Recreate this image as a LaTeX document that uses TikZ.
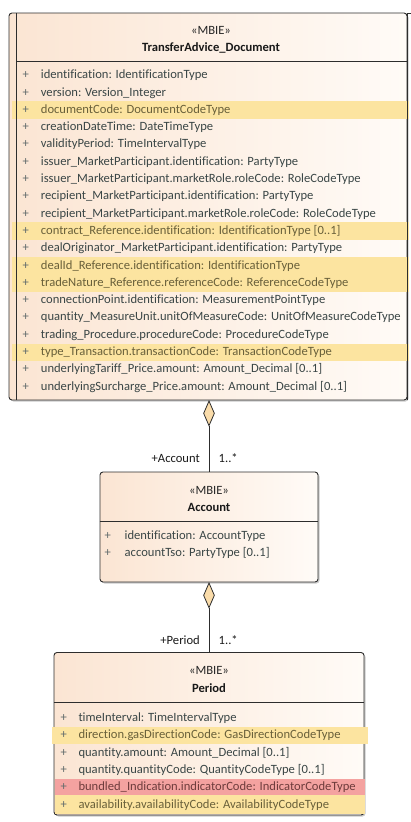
\documentclass[tikz,border=0pt]{standalone}
\usepackage{fontspec}
\setmainfont{Carlito}[Ligatures=NoCommon]
\usetikzlibrary{shapes.geometric,shadows}
\definecolor{txt}{RGB}{58,70,70}
\definecolor{hltxt}{RGB}{105,96,58}
\definecolor{redtxt}{RGB}{110,60,60}
\definecolor{hly}{RGB}{252,228,160}
\definecolor{hlr}{RGB}{244,162,160}
\definecolor{peach}{RGB}{251,229,211}
\definecolor{paper}{RGB}{255,251,247}
\definecolor{edge}{RGB}{45,45,45}
\definecolor{dia}{RGB}{250,220,170}
\newcommand{\attrfont}{\fontsize{12.6}{14}\selectfont}
\begin{document}
\begin{tikzpicture}[x=1pt,y=-1pt,
  umlbox/.style={draw=edge, line width=0.9pt, rounded corners=3pt, left color=peach, right color=paper, inner sep=0,
    drop shadow={shadow xshift=1.5pt, shadow yshift=-1.5pt, fill=black!35, opacity=0.6}},
  sep/.style={draw=edge, line width=0.9pt},
  attr/.style={anchor=base west, inner sep=0, font=\attrfont, text=txt},
  rown/.style={text=txt},
  rowh/.style={text=hltxt},
  rowr/.style={text=redtxt},
  plus/.style={anchor=base west, inner sep=0, font=\attrfont, text=txt!80},
  stereo/.style={anchor=base, inner sep=0, font=\attrfont, text=black!85},
  cname/.style={anchor=base, inner sep=0, font=\attrfont\bfseries, text=black!90},
  lbl/.style={inner sep=0, font=\attrfont, text=black!90},
  diam/.style={shape=diamond, draw=edge, line width=0.8pt, fill=dia, minimum width=11pt, minimum height=25pt, inner sep=0, anchor=north},
  conn/.style={draw=edge, line width=0.9pt},
  bandy/.style={fill=hly},
  bandr/.style={fill=hlr}
]
\useasboundingbox (0,0) rectangle (411,822);

% ---------------- TransferAdvice_Document ----------------
\node[umlbox, minimum width=398pt, minimum height=387pt] (doc) at (208,206.5) {};
% highlight bands
\foreach \b in {113.3,234.4,269.0,286.3,355.5}
  \fill[bandy] (12,\b-12) rectangle (409,\b+5.3);
\draw[sep] (16,13) -- (16,400);
\draw[sep] (407,13) -- (407,400);
\draw[sep] (407,13) -- (411,13);
\draw[sep] (16,61.7) -- (407,61.7);
\node[stereo] (docs) at (211,34) {«MBIE»};
\node[cname] (docn) at (211,51) {TransferAdvice\_Document};
\foreach \s/\t [count=\i] in {
  rown/{identification: IdentificationType},
  rown/{version: Version\_Integer},
  rowh/{documentCode: DocumentCodeType},
  rown/{creationDateTime: DateTimeType},
  rown/{validityPeriod: TimeIntervalType},
  rown/{issuer\_MarketParticipant.identification: PartyType},
  rown/{issuer\_MarketParticipant.marketRole.roleCode: RoleCodeType},
  rown/{recipient\_MarketParticipant.identification: PartyType},
  rown/{recipient\_MarketParticipant.marketRole.roleCode: RoleCodeType},
  rowh/{contract\_Reference.identification: IdentificationType [0..1]},
  rown/{dealOriginator\_MarketParticipant.identification: PartyType},
  rowh/{dealId\_Reference.identification: IdentificationType},
  rowh/{tradeNature\_Reference.referenceCode: ReferenceCodeType},
  rown/{connectionPoint.identification: MeasurementPointType},
  rown/{quantity\_MeasureUnit.unitOfMeasureCode: UnitOfMeasureCodeType},
  rown/{trading\_Procedure.procedureCode: ProcedureCodeType},
  rowh/{type\_Transaction.transactionCode: TransactionCodeType},
  rown/{underlyingTariff\_Price.amount: Amount\_Decimal [0..1]},
  rown/{underlyingSurcharge\_Price.amount: Amount\_Decimal [0..1]}} {
  \node[plus] (dp\i) at (22.5,{78.7+17.3*(\i-1)}) {+};
  \node[attr,\s] (da\i) at (40.7,{78.7+17.3*(\i-1)}) {\t};
}

% ---------------- Account ----------------
\node[umlbox, minimum width=218pt, minimum height=110pt] (acc) at (209,527) {};
\draw[sep] (acc.west |- 0,521) -- (acc.east |- 0,521);
\node[stereo] (accs) at (209,494) {«MBIE»};
\node[cname] (accn) at (209,511) {Account};
\node[plus] (ap1) at (104.5,539) {+};
\node[attr] (aa1) at (124.5,539) {identification: AccountType};
\node[plus] (ap2) at (104.5,556.3) {+};
\node[attr] (aa2) at (124.5,556.3) {accountTso: PartyType [0..1]};

% ---------------- Period ----------------
\node[umlbox, minimum width=310pt, minimum height=162.5pt] (per) at (209,733.75) {};
\fill[bandr] (55,790.7-12) rectangle (364.5,790.7+4.2);
\fill[bandy] (55,808.0-12.9) rectangle (364.5,813.5);
\fill[bandy] (52,738.8-12) rectangle (368,738.8+5.5);
\draw[sep] (per.west |- 0,702) -- (per.east |- 0,702);
\node[stereo] (pers) at (209,674) {«MBIE»};
\node[cname] (pern) at (209,692.5) {Period};
\foreach \s/\t [count=\i] in {
  rown/{timeInterval: TimeIntervalType},
  rowh/{direction.gasDirectionCode: GasDirectionCodeType},
  rown/{quantity.amount: Amount\_Decimal [0..1]},
  rown/{quantity.quantityCode: QuantityCodeType [0..1]},
  rowr/{bundled\_Indication.indicatorCode: IndicatorCodeType},
  rowh/{availability.availabilityCode: AvailabilityCodeType}} {
  \node[plus] (pp\i) at (60.5,{721.5+17.3*(\i-1)}) {+};
  \node[attr,\s] (pa\i) at (78.3,{721.5+17.3*(\i-1)}) {\t};
}

% ---------------- connectors ----------------
\node[diam] (k1) at (acc.north |- doc.south) {};
\draw[conn] (k1.south) -- (acc.north);
\node[lbl, anchor=base east] (r1) at (200,462) {+Account};
\node[lbl, anchor=base west] (m1) at (218.5,462) {1..*};

\node[diam] (k2) at (per.north |- acc.south) {};
\draw[conn] (k2.south) -- (per.north);
\node[lbl, anchor=base east] (r2) at (200,644) {+Period};
\node[lbl, anchor=base west] (m2) at (218.5,644) {1..*};
\end{tikzpicture}
\end{document}
